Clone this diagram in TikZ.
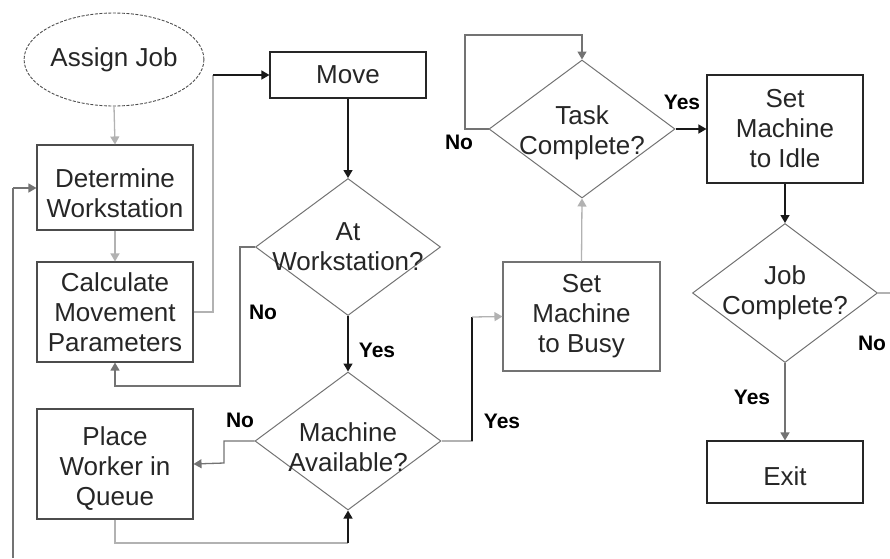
\documentclass[tikz,border=0pt]{standalone}
\usepackage{fontspec}
\setmainfont{Liberation Sans}
\usetikzlibrary{shapes.geometric,arrows.meta}
\tikzset{
  txt/.style={font=\fontsize{26}{30}\selectfont, text=black!85, align=center},
  box/.style={txt, draw=black!70, line width=1.1pt, rectangle, inner sep=0pt},
  dia/.style={draw=black!55, line width=1pt, diamond, inner sep=0pt, minimum width=186pt, minimum height=138pt},
  dtext/.style={txt, inner sep=0pt},
  lab/.style={font=\bfseries\fontsize{21}{21}\selectfont, text=black, inner sep=0pt},
  tip/.style={-{Triangle[length=8pt,width=9pt]}},
  dark/.style={draw=black!90, line width=1.4pt},
  mid/.style={draw=black!55, line width=1.3pt},
  light/.style={draw=black!30, line width=1.3pt},
}
\begin{document}
\begin{tikzpicture}[x=1pt,y=-1pt]
\useasboundingbox (0,0) rectangle (890,558);
% nodes
\node[txt, ellipse, draw=black!70, line width=0.9pt, dash pattern=on 3pt off 1.5pt, minimum width=172pt, minimum height=93pt, inner sep=0pt] (assign) at (114,59.5) {Assign Job};
\node[box, minimum width=156pt, minimum height=85pt, label={[dtext,yshift=-6pt]center:{Determine\\Workstation}}] (determine) at (115,187.5) {};
\node[box, minimum width=156pt, minimum height=100pt] (calc) at (115,312) {Calculate\\Movement\\Parameters};
\node[box, minimum width=156pt, minimum height=110pt, label={[dtext,yshift=-5pt]center:{Place\\Worker in\\Queue}}] (place) at (115,464) {};
\node[box, draw=black!85, minimum width=156pt, minimum height=46pt] (move) at (348,75) {Move};
\node[dia, minimum width=185pt, minimum height=137pt, label={[dtext]center:{At\\Workstation?}}] (atws) at (348,247) {};
\node[dia, label={[dtext,yshift=-6pt]center:{Machine\\Available?}}] (avail) at (348,441) {};
\node[box, draw=black!55, minimum width=157pt, minimum height=109pt] (busy) at (581.5,316.5) {Set\\Machine\\to Busy};
\node[dia, label={[dtext,yshift=-4pt]center:{Task\\Complete?}}] (task) at (582,129) {};
\node[box, draw=black!85, minimum width=156pt, minimum height=108pt] (idle) at (785,129) {Set\\Machine\\to Idle};
\node[dia, minimum width=185pt, minimum height=139pt, label={[dtext]center:{Job\\Complete?}}] (jobc) at (785,293) {};
\node[box, draw=black!85, minimum width=156pt, minimum height=62pt, label={[dtext,yshift=-4pt]center:Exit}] (exit) at (785,472) {};
% helper coordinates
\coordinate (c1) at (213,75);
\coordinate (c2) at (240,386);
\coordinate (c3) at (224,463);
\coordinate (c5) at (472,317);
\coordinate (c6) at (465,35);
\coordinate (c7) at (890,293);
\coordinate (c8) at (13,558);
\coordinate (c9) at (13,188);
\coordinate (c10) at (348,543);
% connectors
\draw[light, tip] (assign.south) -- (determine.north);
\draw[light, tip] (determine.south) -- (calc.north);
\draw[light] (calc.east) -| (c1);
\draw[dark, tip] (c1) -- (move.west);
\draw[dark, tip] (move.south) -- (atws.north);
\draw[mid, tip] (atws.west) -| (c2) -| (calc.south);
\draw[dark, tip] (atws.south) -- (avail.north);
\draw[mid, tip] (avail.west) -| (c3) -- (place.east);
\draw[light] (place.south) |- (c10);
\draw[dark, tip] (c10) -- (avail.south);
\draw[light] (avail.east) -| (c5);
\draw[dark] (c5 |- avail.east) -- (c5);
\draw[light, tip] (c5) -- (busy.west);
\draw[light, tip] (busy.north) -- (task.south);
\draw[mid, tip] (task.west) -| (c6) -| (task.north);
\draw[dark, tip] (task.east) -- (idle.west);
\draw[dark, tip] (idle.south) -- (jobc.north);
\draw[light] (jobc.east) -- (c7);
\draw[mid, tip] (jobc.south) -- (exit.north);
\draw[mid] (c8) -- (c9);
\draw[mid, tip] (c9) -- (determine.west |- c9);
% labels
\node[lab] (l1) at (263,312) {No};
\node[lab] (l2) at (377,350) {Yes};
\node[lab] (l3) at (240,420) {No};
\node[lab] (l4) at (502,421) {Yes};
\node[lab] (l5) at (459,142) {No};
\node[lab] (l6) at (682,102) {Yes};
\node[lab] (l7) at (752,397) {Yes};
\node[lab] (l8) at (872,343) {No};
\end{tikzpicture}
\end{document}
